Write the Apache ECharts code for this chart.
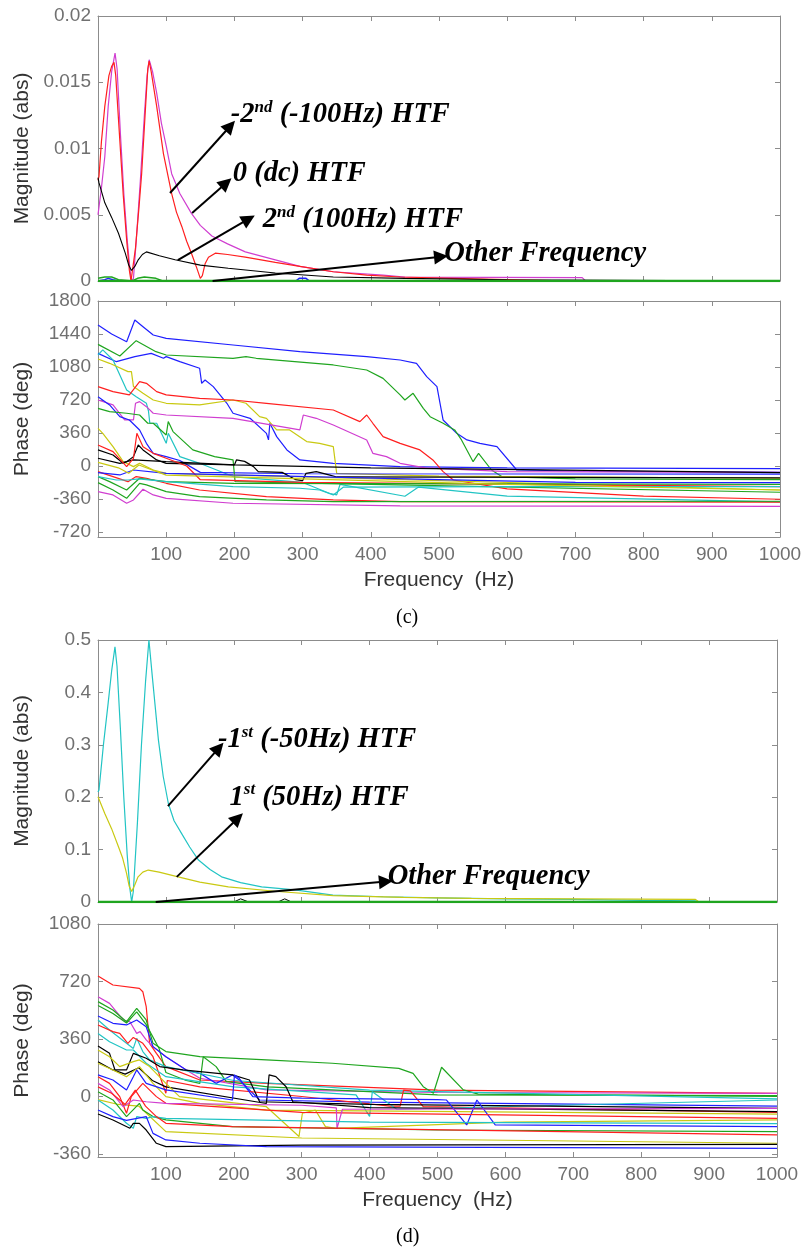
<!DOCTYPE html>
<html><head><meta charset="utf-8">
<script src="https://cdn.jsdelivr.net/npm/echarts@6/dist/echarts.min.js"></script>
<style>html,body{margin:0;padding:0;background:#fff}#chart{width:805px;height:1248px}</style>
</head><body><div id="chart"></div>
<script>
// ---------- tick labels ----------
const freqTicks = [0,100,200,300,400,500,600,700,800,900,1000];
const phaseTicksC = [-720,-360,0,360,720,1080,1440,1800];
const phaseTicksD = [-360,0,360,720,1080];

// ---------- panel (c) magnitude [Hz, abs] ----------
const cMagMagenta = [[0,0.005],[1.5,0.0051],[5,0.007],[10,0.0094],[15,0.0132],[20,0.0158],[25,0.0172],[28,0.016],[33,0.011],[38,0.0065],[43,0.003],[47,0.0008],[49,0],[52,0.0002],[56,0.003],[62,0.0075],[68,0.0125],[72,0.0155],[75,0.0167],[80,0.0158],[86,0.0142],[93,0.0119],[100,0.0102],[108,0.0081],[120,0.0066],[137,0.0051],[150,0.0042],[167,0.0034],[190,0.0028],[216,0.0022],[260,0.0016],[296,0.0011],[345,0.0007],[418,0.00045],[450,0.0003],[710,0.00025],[715,0],[1000,0]];
const cMagRed = [[0,0.0076],[1.5,0.0079],[5,0.0105],[10,0.0132],[16,0.0155],[20,0.0162],[23.5,0.0165],[26,0.0155],[32,0.0106],[37,0.0065],[42,0.0031],[46,0.0008],[48.4,0],[51,0],[55,0.0025],[60,0.0055],[64,0.0081],[69,0.0125],[73,0.016],[75,0.0166],[78,0.0158],[86,0.0132],[96,0.0096],[108,0.0066],[115,0.0052],[123,0.0041],[130,0.003],[137,0.0021],[144,0.0011],[150,0.0002],[153,0.0004],[157,0.0013],[162,0.0018],[172,0.0021],[190,0.002],[216,0.0018],[260,0.0014],[296,0.0011],[345,0.0007],[394,0.00045],[443,0.0003],[520,0.0002],[600,0.0001],[700,0],[1000,0]];
const cMagBlack = [[0,0.0078],[1.5,0.0074],[10,0.0059],[20,0.0048],[30,0.0036],[40,0.0021],[45,0.0012],[49,0.0008],[54,0.0011],[59,0.0016],[65,0.002],[71,0.0022],[90,0.0019],[113,0.0016],[150,0.0012],[191,0.00096],[260,0.0006],[345,0.0003],[450,0.0002],[600,0.0001],[1000,0]];
const cMagSmallGreen = [[0,0.0002],[10,0.0003],[20,0.0003],[30,0.0001],[50,0],[58,0.0002],[68,0.0003],[85,0.0002],[95,0]];
const cMagSmallBlue = [[0,0],[10,0.0001],[15,0.0002],[22,0.0001],[30,0],[290,0],[295,0.0002],[305,0.0002],[310,0]];
const cMagZero = [[0,0],[1000,0]];

// ---------- panel (d) magnitude [Hz, abs] ----------
const dMagCyan = [[0,0.21],[1.5,0.214],[8,0.3],[15,0.38],[20,0.44],[25,0.487],[28,0.45],[33,0.33],[38,0.2],[43,0.09],[47,0.025],[49.6,0],[52,0.02],[58,0.15],[64,0.3],[70,0.42],[75,0.5],[80,0.43],[89,0.309],[96,0.24],[103.6,0.188],[112,0.155],[123,0.131],[135,0.105],[148,0.08],[165,0.062],[182,0.048],[210,0.037],[241,0.029],[290,0.023],[346,0.013],[420,0.01],[500,0.008],[600,0.006],[700,0.005],[800,0.003],[880,0.002],[885,0],[1000,0]];
const dMagYellow = [[0,0.201],[10,0.169],[20,0.14],[30,0.106],[36,0.085],[42,0.055],[46,0.03],[49.6,0.02],[54,0.032],[59,0.048],[66,0.057],[74,0.061],[90,0.057],[118,0.048],[150,0.038],[192,0.029],[265,0.02],[346,0.012],[450,0.009],[550,0.007],[700,0.006],[880,0.005],[885,0],[1000,0]];
const dMagSmallBlack = [[200,0],[210,0.006],[222,0],[265,0],[275,0.006],[285,0]];
const dMagZero = [[0,0],[1000,0]];

// ---------- panel (c) phase [Hz, deg] ----------
const cPhBlue1 = [[0,1538],[20,1440],[42,1356],[54,1593],[66,1520],[81,1429],[100,1393],[198,1320],[296,1247],[394,1193],[443,1156],[467,1120],[482,975],[497,866],[506,502],[526,356],[541,284],[560,247],[585,211],[614,-44],[700,-55],[1000,-70]];
const cPhGreen1 = [[0,1327],[32,1200],[56,1367],[85,1247],[100,1211],[198,1175],[217,1193],[232,1175],[345,1102],[394,1047],[418,956],[443,775],[450,720],[462,793],[477,629],[487,538],[506,466],[523,393],[533,284],[550,47],[558,138],[577,-44],[592,-116],[700,-140],[1000,-150]];
const cPhBlue2 = [[0,1229],[27,1138],[54,1193],[78,1229],[96,1175],[100,1193],[120,1138],[149,1066],[152,902],[157,938],[169,866],[189,684],[198,575],[223,520],[247,356],[250,284],[252,466],[262,320],[277,175],[296,66],[345,29],[443,-7],[600,-20],[1000,-30]];
const cPhCyan1 = [[0,1211],[7,1266],[22,1156],[42,829],[56,756],[71,684],[74,600],[76,466],[86,466],[100,247],[103,356],[120,102],[149,29],[200,-120],[300,-180],[340,-300],[350,-316],[355,-200],[450,-330],[470,-230],[600,-330],[1000,-392]];
const cPhYellow1 = [[0,1167],[17,1120],[44,1029],[49,1029],[52,866],[66,793],[81,720],[100,684],[149,666],[198,720],[217,684],[237,538],[247,520],[262,393],[281,393],[306,266],[325,247],[345,211],[350,-80],[500,-110],[1000,-134]];
const cPhRed1 = [[0,866],[22,811],[46,775],[61,920],[71,902],[86,811],[100,775],[149,738],[198,720],[247,684],[345,611],[384,484],[394,556],[403,466],[418,320],[443,247],[472,175],[491,66],[506,-62],[521,-153],[600,-250],[800,-330],[1000,-363]];
const cPhMagenta1 = [[0,720],[22,666],[39,502],[52,502],[55,684],[61,702],[71,647],[81,575],[100,556],[198,520],[296,393],[301,556],[320,520],[345,447],[394,284],[403,138],[423,102],[443,29],[480,-20],[600,-62],[1000,-70]];
const cPhBlue3 = [[0,756],[17,666],[32,538],[46,502],[61,393],[71,247],[81,138],[100,102],[120,60],[150,-70],[300,-85],[1000,-90]];
const cPhGreen2 = [[0,629],[17,593],[42,575],[61,556],[73,466],[81,466],[100,338],[103,484],[110,375],[139,175],[171,102],[198,66],[201,-171],[400,-200],[1000,-287]];
const cPhYellow2 = [[0,411],[7,356],[22,211],[37,47],[52,-7],[61,29],[81,-44],[100,-80],[300,-120],[1000,-262]];
const cPhBlack1 = [[0,175],[22,120],[37,29],[42,47],[52,102],[59,229],[66,175],[86,66],[100,29],[200,11],[203,66],[215,50],[228,-7],[235,-62],[270,-70],[290,-150],[300,-160],[305,-80],[320,-62],[340,-100],[350,-120],[1000,-130]];
const cPhBlack2 = [[0,84],[32,29],[52,66],[100,47],[200,11],[400,-20],[1000,-73]];
const cPhRed2 = [[0,229],[22,157],[42,-7],[52,84],[57,356],[66,211],[81,138],[100,84],[130,0],[150,-150],[300,-180],[1000,-225]];
const cPhRed3 = [[0,-62],[22,-116],[44,-171],[56,-116],[71,-134],[100,-189],[149,-262],[247,-334],[345,-371],[443,-390],[1000,-395]];
const cPhGreen3 = [[0,-116],[17,-171],[42,-262],[61,-134],[100,-171],[200,-190],[1000,-200]];
const cPhGreen4 = [[0,-182],[22,-262],[42,-353],[61,-189],[71,-207],[100,-280],[149,-334],[247,-371],[345,-389],[1000,-385]];
const cPhMagenta2 = [[0,-280],[22,-316],[42,-407],[52,-371],[66,-254],[81,-316],[100,-353],[198,-407],[443,-436],[1000,-440]];
const cPhCyan2 = [[0,-116],[27,-153],[44,-153],[60,-140],[100,-171],[198,-225],[296,-243],[325,-262],[345,-316],[360,-230],[600,-225],[1000,-225]];
const cPhBlue4 = [[0,-73],[32,-98],[52,-44],[100,-80],[198,-98],[500,-150],[700,-180],[1000,-182]];
const cPhYellow3 = [[0,40],[30,-20],[45,-80],[60,10],[100,-100],[300,-140],[600,-200],[1000,-262]];

// ---------- panel (d) phase [Hz, deg] ----------
const dPhRed1 = [[0,754],[22,698],[61,677],[66,656],[71,562],[76,333],[86,270],[100,187],[150,103],[248,82],[500,40],[1000,20]];
const dPhMagenta1 = [[0,625],[17,583],[37,479],[47,468],[57,395],[62,406],[71,354],[81,312],[100,249],[130,166],[150,114],[248,41],[500,25],[1000,20]];
const dPhGreen1 = [[0,594],[22,541],[42,468],[57,552],[71,479],[81,333],[100,281],[150,249],[248,229],[345,208],[443,176],[464,145],[479,61],[494,20],[506,183],[538,41],[560,15],[1000,0]];
const dPhGreen2 = [[0,570],[22,520],[42,460],[57,530],[71,450],[90,300],[100,150],[130,100],[150,82],[155,249],[174,187],[189,93],[250,60],[500,10],[1000,5]];
const dPhBlue1 = [[0,504],[22,458],[42,448],[57,479],[71,437],[81,312],[100,249],[130,166],[150,145],[174,82],[198,135],[208,103],[228,20],[238,-22],[400,-35],[1000,-60]];
const dPhCyan1 = [[0,479],[17,416],[42,333],[52,301],[57,364],[66,281],[76,229],[100,187],[200,100],[400,40],[1000,-15]];
const dPhRed2 = [[0,448],[22,406],[32,395],[44,333],[52,370],[66,333],[81,249],[100,20],[102,100],[150,60],[300,0],[430,-60],[445,-60],[450,40],[460,35],[479,-63],[1000,-100]];
const dPhCyan2 = [[0,395],[17,343],[42,291],[52,291],[71,208],[100,124],[200,60],[380,10],[400,-125],[404,30],[440,-80],[1000,-22]];
const dPhBlack1 = [[0,316],[17,270],[25,166],[42,166],[52,270],[71,239],[91,187],[125,166],[198,135],[223,103],[238,-33],[400,-50],[1000,-74]];
const dPhBlack2 = [[0,218],[20,170],[40,140],[60,180],[80,100],[100,60],[248,-44],[252,135],[262,124],[277,61],[287,-33],[400,-70],[1000,-95]];
const dPhYellow1 = [[0,291],[17,249],[32,187],[52,218],[61,229],[76,187],[100,82],[120,-1],[248,-64],[296,-251],[301,-105],[320,-85],[335,-189],[350,-200],[600,-160],[1000,-147]];
const dPhYellow2 = [[0,208],[22,166],[42,124],[61,187],[81,82],[100,-1],[150,-43],[248,-85],[1000,-110]];
const dPhYellow3 = [[0,-20],[30,-50],[60,-60],[100,-220],[300,-260],[1000,-293]];
const dPhBlue2 = [[0,135],[22,103],[42,41],[52,124],[57,166],[71,82],[100,41],[198,-22],[201,135],[208,114],[228,-1],[300,-10],[500,-20],[513,-22],[543,-178],[558,-22],[585,-178],[1000,-189]];
const dPhRed3 = [[0,124],[17,82],[32,-1],[42,-105],[49,-1],[66,82],[86,-1],[100,-43],[300,-100],[1000,-137]];
const dPhMagenta2 = [[0,82],[17,41],[37,-64],[52,-22],[71,-33],[100,-43],[300,-55],[351,-71],[352,-200],[360,-80],[1000,-74]];
const dPhGreen3 = [[0,30],[22,-22],[42,-126],[61,-43],[66,-85],[81,-126],[100,-147],[198,-189],[500,-210],[1000,-220]];
const dPhCyan3 = [[0,-22],[22,-85],[42,-168],[52,-199],[57,-126],[71,-137],[81,-126],[100,-137],[400,-160],[1000,-170]];
const dPhBlack3 = [[0,-110],[22,-147],[47,-199],[52,-168],[61,-168],[71,-210],[86,-293],[100,-314],[300,-305],[1000,-300]];
const dPhBlue3 = [[0,-85],[22,-126],[42,-150],[71,-126],[81,-231],[100,-272],[150,-293],[248,-314],[1000,-325]];
const dPhRed4 = [[0,60],[20,20],[40,-50],[55,40],[70,-60],[86,-126],[100,-168],[198,-189],[1000,-241]];

// ---------- styling / building ----------
const COL = {blue:'#1f1fff', green:'#1fa51f', red:'#ff1f1f', cyan:'#22c4c4', magenta:'#d03ed0', yellow:'#c9c912', black:'#000000'};
const grids = [
  {left:98, top:16, width:682, height:265},
  {left:98, top:301, width:682, height:236},
  {left:98, top:640, width:679, height:262},
  {left:98, top:924, width:679, height:233}
];
const AX = '#8c8c8c';
const labelFont = {fontFamily:'Liberation Sans, Arial, sans-serif', fontSize:19, color:'#707070'};
const nameFont = {fontFamily:'Liberation Sans, Arial, sans-serif', fontSize:21, color:'#333'};

const xAxes = [], yAxes = [];
const yCfg = [
  {min:0, max:0.02, interval:0.005, name:'Magnitude (abs)'},
  {min:-775, max:1800, custom:phaseTicksC, name:'Phase (deg)'},
  {min:0, max:0.5, interval:0.1, name:'Magnitude (abs)'},
  {min:-379, max:1080, custom:phaseTicksD, name:'Phase (deg)'}
];
grids.forEach((g,i)=>{
  const isPhase = (i%2===1);
  const base = {type:'value', gridIndex:i, min:freqTicks[0], max:freqTicks[freqTicks.length-1], interval:100,
    axisLine:{show:true, onZero:false, lineStyle:{color:AX, width:1}},
    axisTick:{show:true, inside:true, length:5, lineStyle:{color:AX}},
    splitLine:{show:false}};
  xAxes.push(Object.assign({}, base, {position:'bottom',
    axisLabel:{show:isPhase, margin:8, formatter:v=> v===0?'':String(v), ...labelFont},
    name: isPhase ? 'Frequency  (Hz)' : '', nameLocation:'middle', nameGap:33, nameTextStyle:nameFont}));
  xAxes.push(Object.assign({}, base, {position:'top', axisLabel:{show:false}}));
  const c = yCfg[i];
  const yb = {type:'value', gridIndex:i, min:c.min, max:c.max,
    axisLine:{show:true, onZero:false, lineStyle:{color:AX, width:1}},
    splitLine:{show:false}};
  if (c.interval) yb.interval = c.interval;
  const tick = {show:true, inside:true, length:5, lineStyle:{color:AX}};
  if (c.custom) tick.customValues = c.custom;
  const lab = {show:true, margin:7, formatter:v=>String(+v.toFixed(6)), ...labelFont};
  if (c.custom) lab.customValues = c.custom;
  yAxes.push(Object.assign({}, yb, {position:'left', axisTick:tick, axisLabel:lab,
    name:c.name, nameLocation:'middle', nameGap:65, nameTextStyle:nameFont}));
  yAxes.push(Object.assign({}, yb, {position:'right', axisTick:tick, axisLabel:{show:false}}));
});

function line(grid, data, color, width, z){
  return {type:'line', xAxisIndex:grid*2, yAxisIndex:grid*2, data:data, showSymbol:false, symbol:'none',
    lineStyle:{color:color, width:width||1.2}, itemStyle:{color:color}, silent:true, z:z||2};
}

const annoText = {fontFamily:'Liberation Serif, Times New Roman, serif', fontStyle:'italic', fontWeight:'bold', color:'#000'};
const rich = {t:Object.assign({fontSize:28.5, lineHeight:32}, annoText), s:Object.assign({fontSize:17, lineHeight:17, verticalAlign:'top'}, annoText)};
function anno(grid, arrows, texts){
  return {type:'line', xAxisIndex:grid*2, yAxisIndex:grid*2, data:[], silent:true, z:10,
    markLine:{silent:true, symbol:['none','triangle'], symbolSize:14, label:{show:false},
      lineStyle:{color:'#000', width:2, type:'solid'}, emphasis:{disabled:true},
      data: arrows.map(a=>[{coord:a[0]},{coord:a[1]}])},
    markPoint:{silent:true, symbol:'circle', symbolSize:1, itemStyle:{color:'rgba(0,0,0,0)'},
      data: texts.map(t=>({coord:t[0], label:{show:true, position:'right', distance:0, formatter:t[1], rich:rich}}))}
  };
}

const series = [
  // (c) magnitude
  line(0, cMagMagenta, COL.magenta, 1.2),
  line(0, cMagRed, COL.red, 1.2),
  line(0, cMagBlack, COL.black, 1.1),
  line(0, cMagSmallBlue, COL.blue, 1.5),
  line(0, cMagSmallGreen, COL.green, 1.5),
  line(0, cMagZero, COL.green, 2.6, 3),
  anno(0,
    [[[105.6,0.00664],[194,0.0117]], [[138,0.00513],[188,0.0074]], [[117,0.00158],[221,0.00468]], [[168,0],[503,0.00183]]],
    [[[194,0.01253],'{t|-2}{s|nd}{t| (-100Hz) HTF}'], [[197,0.0081],'{t|0 (dc) HTF}'], [[241,0.0046],'{t|2}{s|nd}{t| (100Hz) HTF}'], [[507,0.00204],'{t|Other Frequency}']]),
  // (c) phase
  ...[[cPhBlue1,'blue'],[cPhGreen1,'green'],[cPhBlue2,'blue'],[cPhCyan1,'cyan'],[cPhYellow1,'yellow'],[cPhRed1,'red'],
      [cPhMagenta1,'magenta'],[cPhBlue3,'blue'],[cPhGreen2,'green'],[cPhYellow2,'yellow'],[cPhBlack1,'black'],[cPhBlack2,'black'],
      [cPhRed2,'red'],[cPhRed3,'red'],[cPhGreen3,'green'],[cPhGreen4,'green'],[cPhMagenta2,'magenta'],[cPhCyan2,'cyan'],
      [cPhBlue4,'blue'],[cPhYellow3,'yellow']].map(p=>line(1, p[0], COL[p[1]], 1.2)),
  // (d) magnitude
  line(2, dMagCyan, COL.cyan, 1.2),
  line(2, dMagYellow, COL.yellow, 1.2),
  line(2, dMagSmallBlack, COL.black, 1),
  line(2, dMagZero, COL.green, 2.6, 3),
  anno(2,
    [[[103,0.183],[178,0.294]], [[116,0.048],[206,0.16]], [[85,0],[424,0.039]]],
    [[[176,0.309],'{t|-1}{s|st}{t| (-50Hz) HTF}'], [[193,0.2],'{t|1}{s|st}{t| (50Hz) HTF}'], [[426,0.048],'{t|Other Frequency}']]),
  // (d) phase
  ...[[dPhRed1,'red'],[dPhMagenta1,'magenta'],[dPhGreen1,'green'],[dPhGreen2,'green'],[dPhBlue1,'blue'],[dPhCyan1,'cyan'],
      [dPhRed2,'red'],[dPhCyan2,'cyan'],[dPhBlack1,'black'],[dPhBlack2,'black'],[dPhYellow1,'yellow'],[dPhYellow2,'yellow'],
      [dPhYellow3,'yellow'],[dPhBlue2,'blue'],[dPhRed3,'red'],[dPhMagenta2,'magenta'],[dPhGreen3,'green'],[dPhCyan3,'cyan'],
      [dPhBlack3,'black'],[dPhBlue3,'blue'],[dPhRed4,'red']].map(p=>line(3, p[0], COL[p[1]], 1.2))
];

const chart = echarts.init(document.getElementById('chart'), null, {renderer:'canvas'});
chart.setOption({
  animation:false,
  backgroundColor:'#fff',
  title:[
    {text:'(c)', left:391, top:603, textStyle:{fontFamily:'Liberation Serif, Times New Roman, serif', fontSize:20, fontWeight:'normal', color:'#000'}},
    {text:'(d)', left:391, top:1222, textStyle:{fontFamily:'Liberation Serif, Times New Roman, serif', fontSize:20, fontWeight:'normal', color:'#000'}}
  ],
  grid:grids,
  xAxis:xAxes,
  yAxis:yAxes,
  series:series
});
</script></body></html>
